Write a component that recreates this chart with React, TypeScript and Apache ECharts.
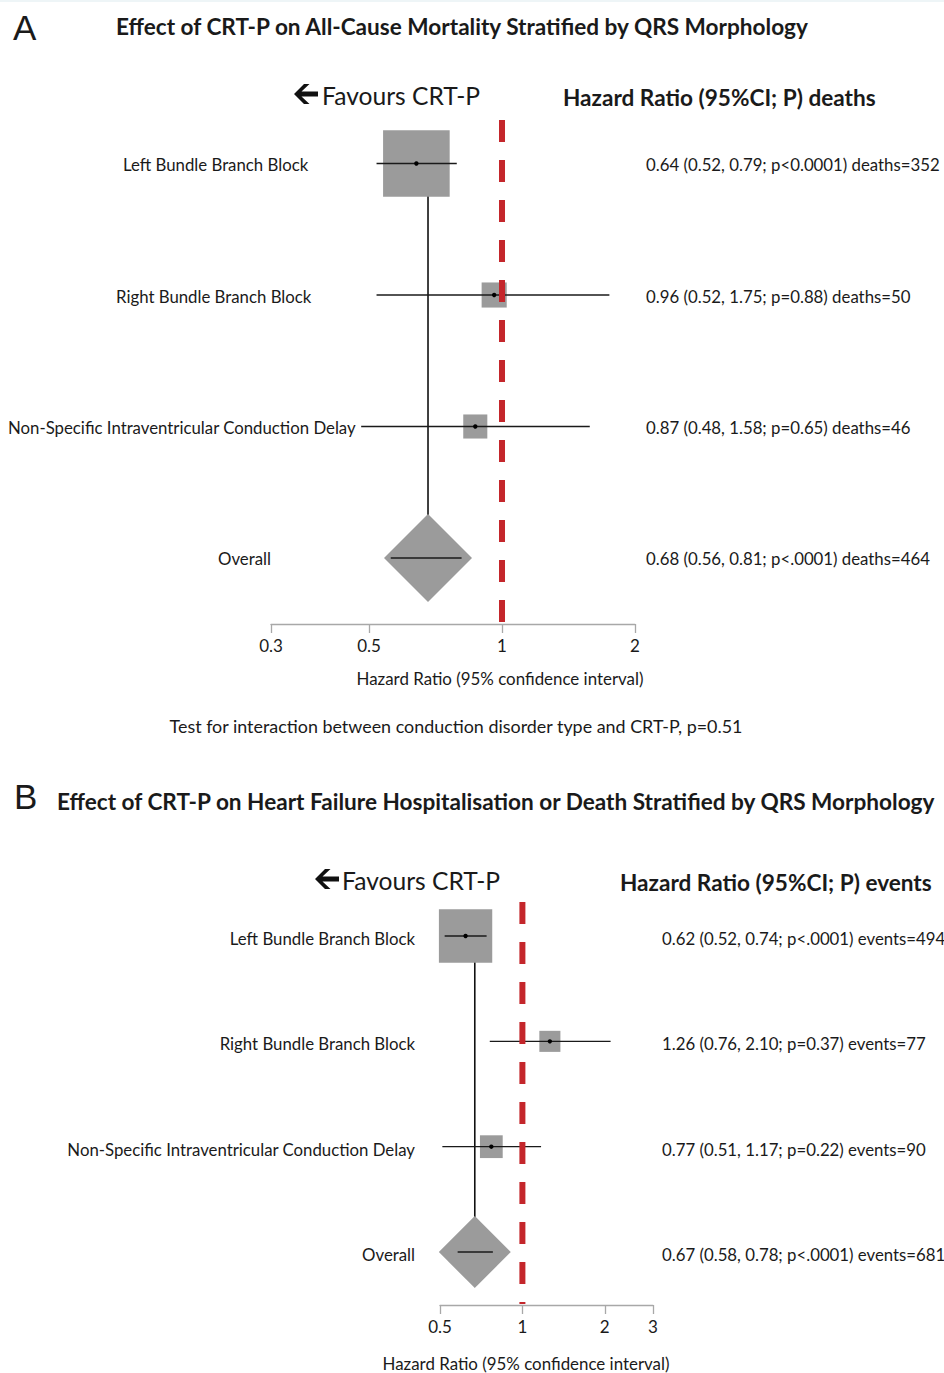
import React, { useEffect, useRef } from "react";
import * as echarts from "echarts";

// ---------- data ----------
const rowNames = [
  "Left Bundle Branch Block",
  "Right Bundle Branch Block",
  "Non-Specific Intraventricular Conduction Delay",
  "Overall",
];

// Panel A: all-cause mortality
const hrA = [0.64, 0.96, 0.87, 0.68];
const lowA = [0.52, 0.52, 0.48, 0.56];
const highA = [0.79, 1.75, 1.58, 0.81];
const pA = ["p<0.0001", "p=0.88", "p=0.65", "p<.0001"];
const deathsA = [352, 50, 46, 464];
const ticksA = [0.3, 0.5, 1, 2];

// Panel B: HF hospitalisation or death
const hrB = [0.62, 1.26, 0.77, 0.67];
const lowB = [0.52, 0.76, 0.51, 0.58];
const highB = [0.74, 2.1, 1.17, 0.78];
const pB = ["p<.0001", "p=0.37", "p=0.22", "p<.0001"];
const eventsB = [494, 77, 90, 681];
const ticksB = [0.5, 1, 2, 3];

const titleA = "Effect of CRT-P on All-Cause Mortality Stratified by QRS Morphology";
const titleB =
  "Effect of CRT-P on Heart Failure Hospitalisation or Death Stratified by QRS Morphology";
const headerA = "Hazard Ratio (95%CI; P) deaths";
const headerB = "Hazard Ratio (95%CI; P) events";
const axisName = "Hazard Ratio (95% confidence interval)";
const footnoteA = "Test for interaction between conduction disorder type and CRT-P, p=0.51";

// ---------- layout / style ----------
const FONT = "Lato, 'Noto Sans', sans-serif";
const TXT = "#1a1a1a";
const GREY = "#9b9b9b";
const RED = "#c4262b";

const Y_A: [number, number] = [-0.331, 3.502];
const Y_B: [number, number] = [-0.323, 3.503];

const labelXA = [123, 116, 8, 218]; // left edges of row labels (panel A)
const labelRightB = 415; // right edge of row labels (panel B)

function statText(i: number, hr: number[], lo: number[], hi: number[], p: string[], word: string, n: number[]) {
  return `${hr[i].toFixed(2)} (${lo[i].toFixed(2)}, ${hi[i].toFixed(2)}; ${p[i]}) ${word}=${n[i]}`;
}

function forestSeries(
  idx: number,
  hr: number[],
  lo: number[],
  hi: number[],
  n: number[],
  stats: string[],
  opt: { k: number; diamond: number; statX: number; labelX: (i: number) => number; align: string; dy: number; fs: number }
) {
  const rows = hr.map((h, i) => [i, h, lo[i], hi[i], n[i]]);
  const last = rows.length - 1;
  return {
    type: "custom",
    xAxisIndex: idx,
    yAxisIndex: idx,
    z: 3,
    clip: false,
    data: rows,
    renderItem: (params: any, api: any) => {
      const i = api.value(0);
      const h = api.value(1);
      const l = api.value(2);
      const u = api.value(3);
      const cnt = api.value(4);
      const [cx, cy] = api.coord([h, i]);
      const x0 = api.coord([l, i])[0];
      const x1 = api.coord([u, i])[0];
      const children: any[] = [];
      if (i === last) {
        const d = opt.diamond;
        children.push({
          type: "polygon",
          shape: { points: [[cx - d, cy], [cx, cy - d], [cx + d, cy], [cx, cy + d]] },
          style: { fill: GREY },
        });
        children.push({
          type: "line",
          shape: { x1: x0, y1: cy, x2: x1, y2: cy },
          style: { stroke: TXT, lineWidth: 1.3 },
        });
      } else {
        const s = opt.k * Math.sqrt(cnt);
        children.push({
          type: "rect",
          shape: { x: cx - s / 2, y: cy - s / 2, width: s, height: s },
          style: { fill: GREY },
        });
        children.push({
          type: "line",
          shape: { x1: x0, y1: cy, x2: x1, y2: cy },
          style: { stroke: TXT, lineWidth: 1.3 },
        });
        children.push({ type: "circle", shape: { cx, cy, r: 2.2 }, style: { fill: "#000" } });
      }
      children.push({
        type: "text",
        x: opt.labelX(i),
        y: cy + opt.dy,
        style: {
          text: rowNames[i],
          fontFamily: FONT,
          fontSize: opt.fs,
          fill: TXT,
          align: opt.align,
          verticalAlign: "middle",
        },
      });
      children.push({
        type: "text",
        x: opt.statX,
        y: cy + opt.dy,
        style: {
          text: stats[i],
          fontFamily: FONT,
          fontSize: opt.fs,
          fill: TXT,
          align: "left",
          verticalAlign: "middle",
        },
      });
      return { type: "group", children };
    },
  };
}

function xAxisFor(idx: number, min: number, max: number, ticks: number[]) {
  return {
    type: "log",
    gridIndex: idx,
    min,
    max,
    axisLine: { show: true, onZero: false, lineStyle: { color: "#a8a8a8", width: 1.3 } },
    axisTick: { show: true, length: 9, lineStyle: { color: "#a8a8a8", width: 1.3 }, customValues: ticks },
    axisLabel: {
      show: true,
      customValues: ticks,
      formatter: (v: number) => String(v),
      color: TXT,
      fontFamily: FONT,
      fontSize: 17,
      margin: 13,
    },
    splitLine: { show: false },
    minorTick: { show: false },
  };
}

function yAxisFor(idx: number, ext: [number, number]) {
  return { type: "value", gridIndex: idx, inverse: true, min: ext[0], max: ext[1], show: false };
}

function arrow(x: number, y: number) {
  // leftward bold arrow, tip at (x, y)
  return {
    type: "polygon",
    shape: {
      points: [
        [x, y],
        [x + 10, y - 10],
        [x + 15.5, y - 10],
        [x + 7.5, y - 2.6],
        [x + 24, y - 2.6],
        [x + 24, y + 2.6],
        [x + 7.5, y + 2.6],
        [x + 15.5, y + 10],
        [x + 10, y + 10],
      ],
    },
    style: { fill: "#111" },
  };
}

function txt(text: string, x: number, y: number, size: number, extra: any = {}) {
  return {
    type: "text",
    x,
    y,
    style: {
      text,
      fontFamily: FONT,
      fontSize: size,
      fill: TXT,
      align: "left",
      verticalAlign: "middle",
      ...extra,
    },
  };
}

export default function App() {
  const ref = useRef<HTMLDivElement>(null);
  useEffect(() => {
    if (!ref.current) return;
    const chart = echarts.init(ref.current, undefined, { renderer: "svg" });
    const statsA = hrA.map((_, i) => statText(i, hrA, lowA, highA, pA, "deaths", deathsA));
    const statsB = hrB.map((_, i) => statText(i, hrB, lowB, highB, pB, "events", eventsB));

    const option: any = {
      animation: false,
      backgroundColor: "#ffffff",
      grid: [
        { left: 271, top: 120, width: 364, height: 504 },
        { left: 440, top: 902, width: 213, height: 403 },
      ],
      xAxis: [xAxisFor(0, 0.3, 2, ticksA), xAxisFor(1, 0.5, 3, ticksB)],
      yAxis: [yAxisFor(0, Y_A), yAxisFor(1, Y_B)],
      series: [
        {
          type: "line",
          xAxisIndex: 0,
          yAxisIndex: 0,
          z: 2,
          symbol: "none",
          data: [[hrA[3], 0], [hrA[3], 3]],
          lineStyle: { color: "#111", width: 1.6 },
        },
        {
          type: "line",
          xAxisIndex: 1,
          yAxisIndex: 1,
          z: 2,
          symbol: "none",
          data: [[hrB[3], 0], [hrB[3], 3]],
          lineStyle: { color: "#111", width: 1.6 },
        },
        forestSeries(0, hrA, lowA, highA, deathsA, statsA, {
          k: 3.55,
          diamond: 44,
          statX: 646,
          labelX: (i) => labelXA[i],
          align: "left",
          dy: 1,
          fs: 16.8,
        }),
        forestSeries(1, hrB, lowB, highB, eventsB, statsB, {
          k: 2.4,
          diamond: 36,
          statX: 662,
          labelX: () => labelRightB,
          align: "right",
          dy: 2.5,
          fs: 16.8,
        }),
        {
          type: "line",
          xAxisIndex: 0,
          yAxisIndex: 0,
          z: 5,
          symbol: "none",
          data: [[1, Y_A[0]], [1, Y_A[1] - 0.01]],
          lineStyle: { color: RED, width: 6, type: [22, 18], cap: "butt" },
        },
        {
          type: "line",
          xAxisIndex: 1,
          yAxisIndex: 1,
          z: 5,
          symbol: "none",
          data: [[1, Y_B[0]], [1, Y_B[1] - 0.01]],
          lineStyle: { color: RED, width: 6, type: [22, 18], cap: "butt" },
        },
      ],
      graphic: [
        { type: "rect", shape: { x: 0, y: 0, width: 944, height: 2 }, style: { fill: "#eef5f7" } },
        txt("A", 13, 27, 35, { fontFamily: "'Liberation Sans', Arial, sans-serif" }),
        txt(titleA, 116, 26, 22.6, { fontWeight: "bold" }),
        arrow(294, 94),
        txt("Favours CRT-P", 322, 95, 24.6),
        txt(headerA, 563, 97, 22.6, { fontWeight: "bold" }),
        txt(axisName, 500, 678, 16.9, { align: "center" }),
        txt(footnoteA, 456, 726, 17.9, { align: "center" }),
        txt("B", 14, 796, 35, { fontFamily: "'Liberation Sans', Arial, sans-serif" }),
        txt(titleB, 57, 801, 22.6, { fontWeight: "bold" }),
        arrow(315, 879),
        txt("Favours CRT-P", 342, 880, 24.6),
        txt(headerB, 620, 882, 22.6, { fontWeight: "bold" }),
        txt(axisName, 526, 1363, 16.9, { align: "center" }),
      ],
    };
    chart.setOption(option);
    return () => chart.dispose();
  }, []);
  return (
    <div
      ref={ref}
      style={{ position: "absolute", left: 0, top: 0, width: 944, height: 1373, background: "#fff" }}
    />
  );
}
